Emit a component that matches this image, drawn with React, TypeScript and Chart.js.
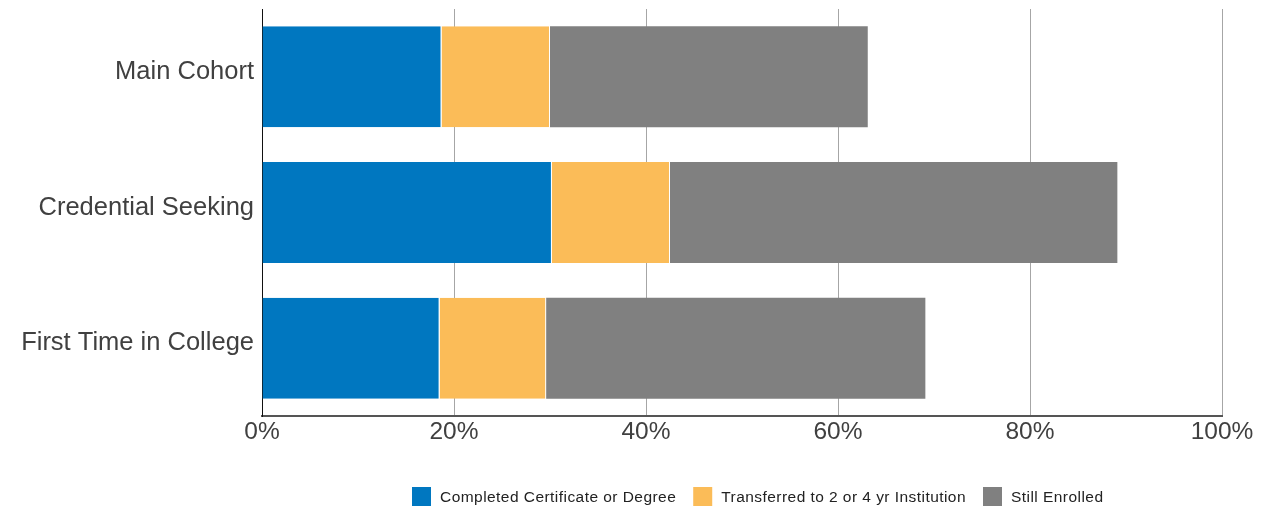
import React, { useEffect, useRef } from "react";
import { Chart, registerables } from "chart.js";

Chart.register(...registerables);

// Cohort outcome shares, in percent of each cohort
const categories = ["Main Cohort", "Credential Seeking", "First Time in College"];
const completed = [18.7, 30.2, 18.5];
const transferred = [11.3, 12.3, 11.1];
const stillEnrolled = [33.1, 46.6, 39.5];
const seriesLabels = [
  "Completed Certificate or Degree",
  "Transferred to 2 or 4 yr Institution",
  "Still Enrolled",
];
const seriesColors = ["#0077c0", "#fbbc58", "#808080"];
const xTicks = [0, 20, 40, 60, 80, 100];

const FONT = '"Liberation Sans", Arial, sans-serif';
const WIDTH = 1268;
const HEIGHT = 507;

// Legend drawn along the bottom edge: swatch, then label, item after item
const bottomLegend = {
  id: "bottomLegend",
  afterDraw(chart: any) {
    const { ctx, chartArea } = chart;
    ctx.save();
    ctx.font = `15.5px ${FONT}`;
    (ctx as any).letterSpacing = "0.45px";
    ctx.textBaseline = "middle";
    ctx.textAlign = "left";
    const box = 19;
    let x = chartArea.left + 150;
    const y = chart.height - 20;
    chart.data.datasets.forEach((ds: any) => {
      ctx.fillStyle = ds.backgroundColor;
      ctx.fillRect(x, y, box, box);
      x += box + 9;
      ctx.fillStyle = "#222222";
      ctx.fillText(ds.label, x, y + box / 2 + 1);
      x += ctx.measureText(ds.label).width + 17;
    });
    ctx.restore();
  },
};

export default function App() {
  const canvasRef = useRef<HTMLCanvasElement | null>(null);

  useEffect(() => {
    if (!canvasRef.current) return;
    const values = [completed, transferred, stillEnrolled];
    const chart = new Chart(canvasRef.current, {
      type: "bar",
      data: {
        labels: categories,
        datasets: values.map((data, i) => ({
          label: seriesLabels[i],
          data,
          backgroundColor: seriesColors[i],
          borderColor: "#ffffff",
          borderWidth: i < values.length - 1 ? { top: 0, bottom: 0, left: 0, right: 1 } : 0,
          borderSkipped: false,
          categoryPercentage: 1,
          barPercentage: 0.745,
        })),
      },
      options: {
        indexAxis: "y",
        animation: false,
        responsive: false,
        maintainAspectRatio: false,
        layout: { padding: { top: 9, right: 46, left: 0, bottom: 0 } },
        plugins: {
          legend: { display: false },
          tooltip: { enabled: false },
        },
        scales: {
          x: {
            stacked: true,
            min: 0,
            max: 100,
            afterBuildTicks: (scale: any) => {
              scale.ticks = xTicks.map((v) => ({ value: v }));
            },
            afterFit: (scale: any) => {
              scale.height = 91;
            },
            ticks: {
              callback: (v: any) => `${v}%`,
              color: "#404040",
              font: { family: FONT, size: 24.5 },
              padding: 2,
              maxRotation: 0,
            },
            grid: {
              color: "#a6a6a6",
              lineWidth: 1,
              drawTicks: false,
            },
            border: { display: true, color: "#555555", width: 2 },
          },
          y: {
            stacked: true,
            afterFit: (scale: any) => {
              scale.width = 262;
              scale.paddingTop = 0;
              scale.paddingBottom = 0;
            },
            ticks: {
              color: "#404040",
              font: { family: FONT, size: 25.5 },
              padding: 8,
              labelOffset: -5,
            },
            grid: { display: false, drawTicks: false },
            border: { display: true, color: "#111111", width: 1 },
          },
        },
      },
      plugins: [bottomLegend],
    });
    return () => chart.destroy();
  }, []);

  return (
    <div
      style={{
        position: "absolute",
        left: 0,
        top: 0,
        width: WIDTH,
        height: HEIGHT,
        background: "#ffffff",
      }}
    >
      <canvas ref={canvasRef} width={WIDTH} height={HEIGHT} />
    </div>
  );
}
